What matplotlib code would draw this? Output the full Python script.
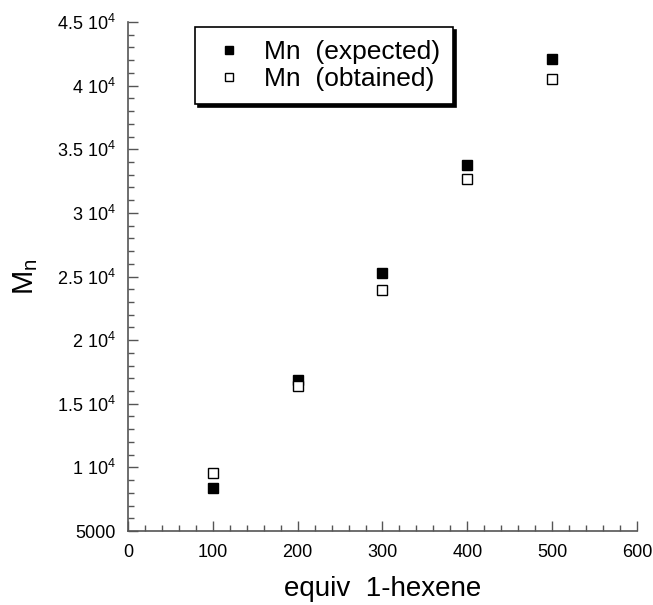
import matplotlib
matplotlib.use("Agg")
import matplotlib.pyplot as plt
from matplotlib.ticker import MultipleLocator, FixedLocator

plt.rcParams['font.family'] = ['Liberation Sans', 'DejaVu Sans']
plt.rcParams['mathtext.fontset'] = 'custom'
plt.rcParams['mathtext.rm'] = 'Liberation Sans'

equiv = [100, 200, 300, 400, 500]
mn_expected = [8380, 16860, 25270, 33750, 42080]
mn_obtained = [9560, 16400, 23930, 32650, 40500]

y_ticks = [5000, 10000, 15000, 20000, 25000, 30000, 35000, 40000, 45000]
y_tick_labels = ["5000", "1 10$^{4}$", "1.5 10$^{4}$", "2 10$^{4}$", "2.5 10$^{4}$",
                 "3 10$^{4}$", "3.5 10$^{4}$", "4 10$^{4}$", "4.5 10$^{4}$"]

fig = plt.figure(figsize=(6.53, 6.05), dpi=100)
ax = fig.add_axes([0.196, 0.1223, 0.7795, 0.8413])

ax.plot(equiv, mn_expected, 's', color='black', markersize=7.5, linestyle='none',
        label='Mn  (expected)')
ax.plot(equiv, mn_obtained, 's', markerfacecolor='white', markeredgecolor='black',
        markeredgewidth=1.0, markersize=7.5, linestyle='none', label='Mn  (obtained)')

ax.set_xlim(0, 600)
ax.set_ylim(5000, 45000)
ax.xaxis.set_major_locator(MultipleLocator(100))
ax.xaxis.set_minor_locator(MultipleLocator(20))
ax.yaxis.set_major_locator(FixedLocator(y_ticks))
ax.set_yticklabels(y_tick_labels)
ax.yaxis.set_minor_locator(MultipleLocator(1000))

axis_col = '#555555'
for side in ['top', 'right']:
    ax.spines[side].set_visible(False)
for side in ['left', 'bottom']:
    ax.spines[side].set_color(axis_col)
    ax.spines[side].set_linewidth(1.2)

ax.tick_params(which='major', direction='in', length=7, width=1.0, color=axis_col,
               labelsize=13, pad=9)
ax.tick_params(which='minor', direction='in', length=4, width=1.0, color=axis_col)

ax.set_xlabel('equiv  1-hexene', fontsize=20, labelpad=11)
ax.set_ylabel('M$_{\\mathregular{n}}$', fontsize=21, labelpad=12)

leg = ax.legend(loc='upper left', bbox_to_anchor=(195 / 653, 1 - 27 / 605),
                bbox_transform=fig.transFigure, frameon=True, fancybox=False,
                shadow={'color': 'black', 'alpha': 1.0}, edgecolor='black',
                fontsize=19, handletextpad=0.5, borderpad=0.5, labelspacing=0.1,
                handlelength=1.6, markerscale=0.8, borderaxespad=0)
leg.get_frame().set_linewidth(1.2)

fig.savefig('out.png', dpi=100)
